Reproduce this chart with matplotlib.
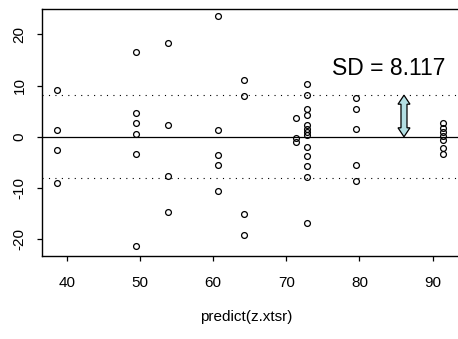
import matplotlib
matplotlib.use("Agg")
import matplotlib.pyplot as plt
from matplotlib.patches import Polygon
import numpy as np

plt.rcParams['font.family'] = ['Liberation Sans', 'DejaVu Sans']
plt.rcParams['axes.unicode_minus'] = False

# fitted values (x) and residuals (y)
fitted = [38.6, 38.6, 38.6, 38.6,
          49.4, 49.4, 49.4, 49.4, 49.4, 49.4,
          53.8, 53.8, 53.8, 53.8,
          60.6, 60.6, 60.6, 60.6, 60.6,
          64.2, 64.2, 64.2, 64.2,
          71.3, 71.3, 71.3,
          72.8, 72.8, 72.8, 72.8, 72.8, 72.8, 72.8, 72.8, 72.8, 72.8, 72.8, 72.8, 72.8,
          79.6, 79.6, 79.6, 79.6, 79.6,
          91.5, 91.5, 91.5, 91.5, 91.5, 91.5, 91.5]
resid = [9.2, 1.4, -2.6, -9.0,
         16.6, 4.6, 2.6, 0.6, -3.4, -21.4,
         18.4, 2.3, -7.7, -14.7,
         23.5, 1.4, -3.6, -5.5, -10.6,
         11.0, 8.0, -15.0, -19.1,
         3.7, -0.2, -1.1,
         10.3, 8.2, 5.4, 4.3, 2.4, 1.6, 0.9, 0.3, -1.9, -3.8, -5.7, -7.8, -16.9,
         7.6, 5.5, 1.5, -5.5, -8.6,
         2.7, 1.8, 1.0, 0.2, -0.6, -2.2, -3.3]
sd = 8.117
sd_label = "SD = 8.117"
x_ticks = [40, 50, 60, 70, 80, 90]
y_ticks = [-20, -10, 0, 10, 20]
xlabel = "predict(z.xtsr)"
arrow_x = 86.1

W, H = 458, 339
fig = plt.figure(figsize=(W / 100, H / 100), dpi=100)
left_px, top_px, bottom_px = 41.7, 9.0, 255.7
right_px = 490.0
ax = fig.add_axes([left_px / W, 1 - bottom_px / H, (right_px - left_px) / W, (bottom_px - top_px) / H])

xscale = 7.31
x0 = 40 - (67.0 - left_px) / xscale
ax.set_xlim(x0, x0 + (right_px - left_px) / xscale)
yscale = 5.125
y0 = 136.8
ax.set_ylim((y0 - bottom_px) / yscale, (y0 - top_px) / yscale)

ax.axhline(0, color='black', lw=0.9, zorder=1)
ax.axhline(sd, color='black', lw=0.8, linestyle=(0, (1, 4.8)), zorder=1)
ax.axhline(-sd, color='black', lw=0.8, linestyle=(0, (1, 4.8)), zorder=1)

ax.plot(fitted, resid, linestyle='none', marker='o', markersize=4.2,
        markerfacecolor='none', markeredgecolor='black', markeredgewidth=0.9, zorder=3)

# double-headed arrow showing SD
hw = 6.0 / xscale    # half head width in data units
sw = 3.0 / xscale    # half shaft width
hl = 9.0 / yscale    # head length
poly = [(arrow_x, sd), (arrow_x + hw, sd - hl), (arrow_x + sw, sd - hl),
        (arrow_x + sw, hl), (arrow_x + hw, hl), (arrow_x, 0),
        (arrow_x - hw, hl), (arrow_x - sw, hl), (arrow_x - sw, sd - hl),
        (arrow_x - hw, sd - hl)]
ax.add_patch(Polygon(poly, closed=True, facecolor='#b3dfe3', edgecolor='black', lw=0.9, zorder=4))

ax.text(76.3, 13.3, sd_label, fontsize=16.5, ha='left', va='center', color='black')

for s in ['left', 'bottom', 'top', 'right']:
    ax.spines[s].set_linewidth(1.0)

ax.set_xticks(x_ticks)
ax.set_yticks(y_ticks)
ax.tick_params(axis='both', direction='out', length=3.8, width=0.9, labelsize=11)
ax.tick_params(axis='x', pad=11)
ax.tick_params(axis='y', pad=7)
for lab in ax.get_yticklabels():
    lab.set_rotation(90)
    lab.set_va('center')
ax.set_xlabel(xlabel, fontsize=11, va='center')
ax.xaxis.set_label_coords((246.3 - left_px) / (right_px - left_px),
                          (bottom_px - 316.7) / (bottom_px - top_px))

fig.savefig("out.png", dpi=100)
